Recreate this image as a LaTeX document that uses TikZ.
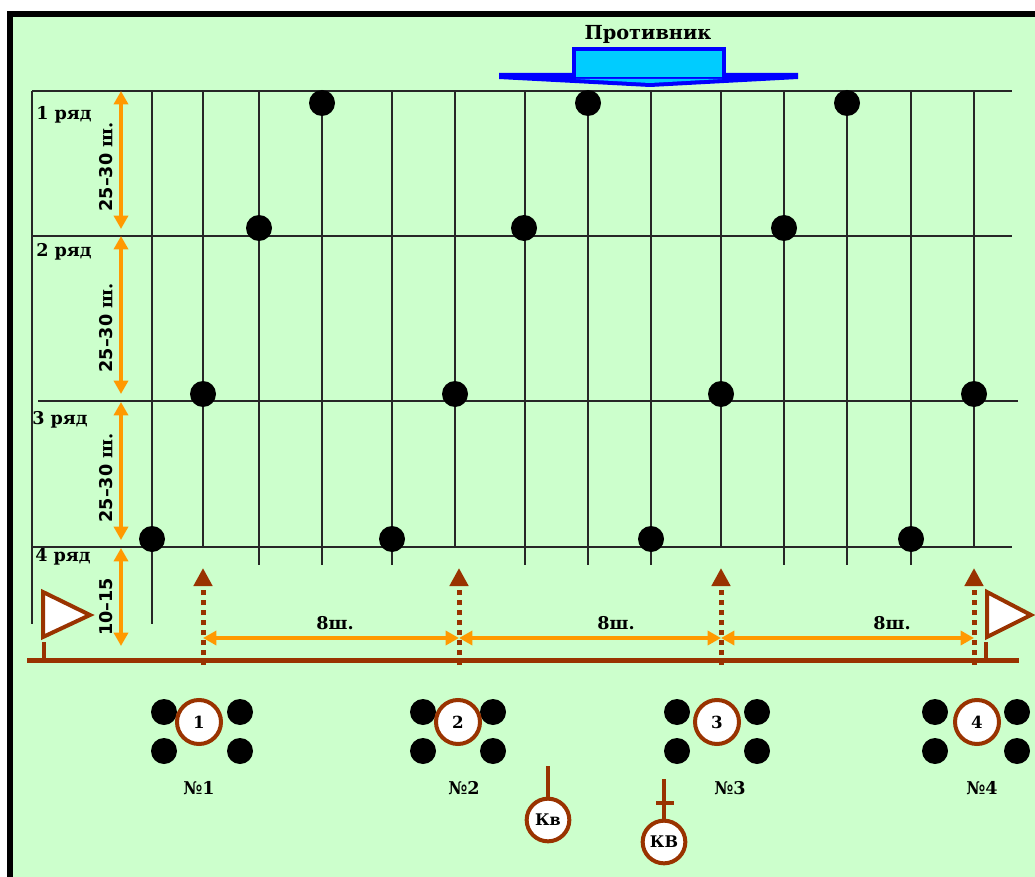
\documentclass[tikz,border=0pt]{standalone}
\usepackage{fontspec}
\setmainfont{DejaVu Serif}
\setsansfont{DejaVu Sans}
\usetikzlibrary{arrows.meta}
\definecolor{fondo}{HTML}{CCFFCC}
\definecolor{naranja}{HTML}{FF9900}
\definecolor{marron}{HTML}{993300}
\definecolor{celeste}{HTML}{00CCFF}
\begin{document}
\begin{tikzpicture}[x=0.75pt, y=-0.75pt,
    rejilla/.style={line width=0.8pt, black!85},
    punto/.style={circle, fill=black, minimum size=19.5pt, inner sep=0pt},
    grupo/.style={circle, draw=marron, line width=3pt, fill=white, minimum size=33pt, inner sep=0pt, font=\bfseries\fontsize{12.5}{14}\selectfont},
    cota/.style={naranja, line width=3.4pt, {Triangle[length=10pt,width=10.5pt]}-{Triangle[length=10pt,width=10.5pt]}},
    avance/.style={marron, line width=3.75pt, dash pattern=on 3.75pt off 3.75pt, -{Triangle[length=13.5pt,width=13.5pt]}},
    bandera/.style={marron, line width=3pt, fill=white},
    etiq/.style={font=\bfseries\fontsize{13.2}{15}\selectfont, inner sep=0pt}]
    \useasboundingbox (0,0) rectangle (1035,877);
    \clip (0,0) rectangle (1035,877);
    % marco
    \fill[white] (0,0) rectangle (1035,877);
    \draw[line width=4.5pt, fill=fondo] (10,14.5) rectangle (1060,900);
    % enemigo
    \node[etiq, font=\bfseries\fontsize{14.5}{16}\selectfont] (enemigo) at (648,34) {Противник};
    \fill[blue] (499,73) -- (798,73) -- (798,79) -- (650,87) -- (499,79) -- cycle;
    \draw[blue, line width=2.5pt, fill=celeste] (574,49) rectangle (724,79);
    \fill[celeste] (576,79) -- (722,79) -- (650,83) -- cycle;
    % filas
    \draw[rejilla] (32,91) -- (1012,91);
    \draw[rejilla] (32,236) -- (1012,236);
    \draw[rejilla] (38,401) -- (1018,401);
    \draw[rejilla] (32,547) -- (1012,547);
    % columnas
    \foreach \x in {32,152} \draw[rejilla] (\x,91) -- (\x,624);
    \foreach \x in {259,322,392,525,588,651,784,847,911} \draw[rejilla] (\x,91) -- (\x,565);
    \foreach \x in {203,455,721,974} \draw[rejilla] (\x,91) -- (\x,547);
    % minas por fila
    \foreach \x in {322,588,847} \node[punto] (m1-\x) at (\x,103) {};
    \foreach \x in {259,524,784} \node[punto] (m2-\x) at (\x,228) {};
    \foreach \x in {203,455,721,974} \node[punto] (m3-\x) at (\x,394) {};
    \foreach \x in {152,392,651,911} \node[punto] (m4-\x) at (\x,539) {};
    % nombres de filas
    \node[etiq, anchor=west] (r1) at (36,115) {1 ряд};
    \node[etiq, anchor=west] (r2) at (36,252) {2 ряд};
    \node[etiq, anchor=west] (r3) at (32,420) {3 ряд};
    \node[etiq, anchor=west] (r4) at (35,557) {4 ряд};
    % distancias entre filas
    \coordinate (v1a) at (121,91);  \coordinate (v1b) at (121,229);
    \coordinate (v2a) at (121,236); \coordinate (v2b) at (121,394);
    \coordinate (v3a) at (121,402); \coordinate (v3b) at (121,540);
    \coordinate (v4a) at (121,548); \coordinate (v4b) at (121,646);
    \draw[cota] (v1a) -- (v1b);
    \draw[cota] (v2a) -- (v2b);
    \draw[cota] (v3a) -- (v3b);
    \draw[cota] (v4a) -- (v4b);
    \node[etiq, rotate=90] (d1) at (106,167) {{\sffamily 25–30} ш.};
    \node[etiq, rotate=90] (d2) at (106,328) {{\sffamily 25–30} ш.};
    \node[etiq, rotate=90] (d3) at (106,478) {{\sffamily 25–30} ш.};
    \node[etiq, rotate=90] (d4) at (106,607) {\sffamily 10–15};
    % linea de partida
    \coordinate (base-i) at (27,660); \coordinate (base-d) at (1019,660);
    \draw[marron, line width=3.75pt] (base-i) -- (base-d);
    \draw[bandera] (43,592) -- (90,615) -- (43,637) -- cycle;
    \draw[marron, line width=3pt] (44,642) -- (44,660);
    \draw[bandera] (987,592) -- (1031,615) -- (987,637) -- cycle;
    \draw[marron, line width=3pt] (986,642) -- (986,660);
    % avance de los grupos
    \foreach \i/\x in {1/203,2/459,3/721,4/974} {
        \coordinate (a\i) at (\x,665);
        \coordinate (b\i) at (\x,568);
        \coordinate (c\i) at (\x,638);
        \draw[avance] (a\i) -- (b\i);
    }
    \draw[cota] (c1) -- (c2);
    \draw[cota] (c2) -- (c3);
    \draw[cota] (c3) -- (c4);
    \node[etiq] (s1) at (335,623) {8ш.};
    \node[etiq] (s2) at (616,623) {8ш.};
    \node[etiq] (s3) at (892,623) {8ш.};
    % grupos
    \foreach \i/\x/\l/\r in {1/199/164/240,2/458/423/493,3/717/677/757,4/977/935/1017} {
        \node[punto] (g\i-a) at (\l,712) {};
        \node[punto] (g\i-b) at (\r,712) {};
        \node[punto] (g\i-c) at (\l,751) {};
        \node[punto] (g\i-d) at (\r,751) {};
        \node[grupo] (g\i) at (\x,722) {\i};
    }
    \node[etiq] (n1) at (199,788) {№1};
    \node[etiq] (n2) at (464,788) {№2};
    \node[etiq] (n3) at (730,788) {№3};
    \node[etiq] (n4) at (982,788) {№4};
    % jefes
    \node[grupo, minimum size=32pt, font=\bfseries\fontsize{12}{14}\selectfont] (kv) at (548,820) {Кв};
    \coordinate (kv-asta) at (548,766);
    \draw[marron, line width=3pt] (kv) -- (kv-asta);
    \node[grupo, minimum size=32pt, font=\bfseries\fontsize{12}{14}\selectfont] (kvv) at (664,842) {КВ};
    \coordinate (kvv-asta) at (664,779);
    \draw[marron, line width=3pt] (kvv) -- (kvv-asta);
    \draw[marron, line width=3pt] (656,803) -- (674,803);
\end{tikzpicture}
\end{document}
